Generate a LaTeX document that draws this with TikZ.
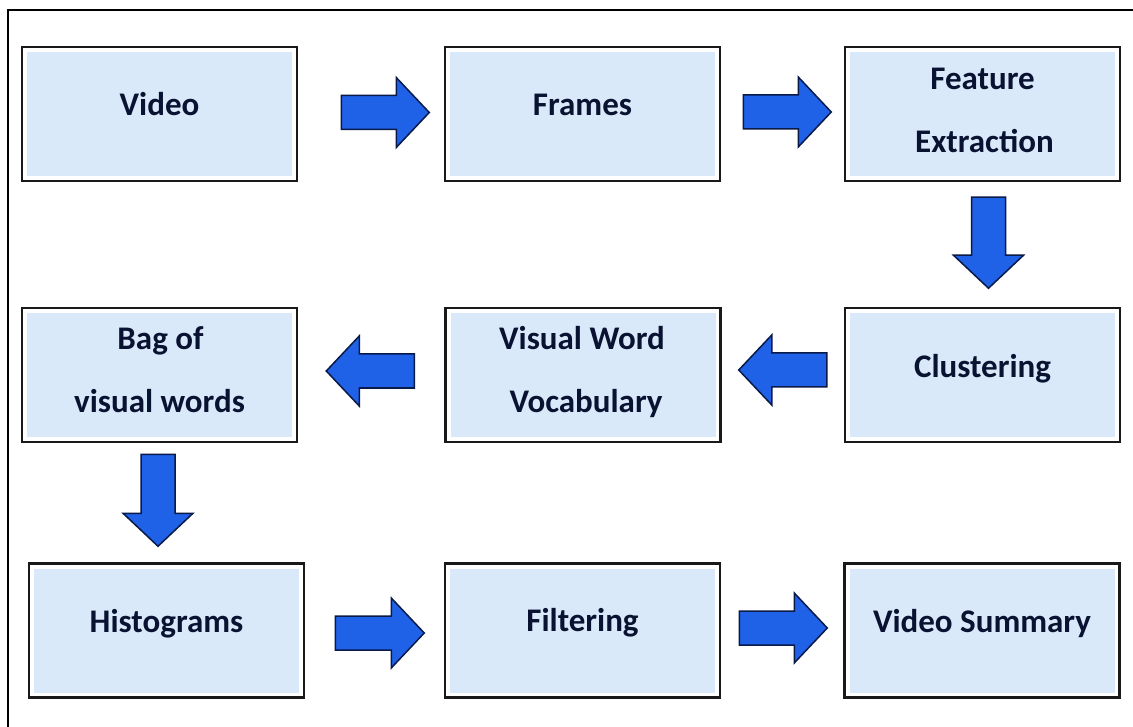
\documentclass[tikz,border=0pt]{standalone}
\usepackage{fontspec}
\setmainfont{Carlito}
\usetikzlibrary{calc}
\definecolor{boxblue}{HTML}{DAE9F9}
\definecolor{arrblue}{HTML}{1F62E8}
\definecolor{arredge}{HTML}{0A1A48}
\definecolor{txt}{HTML}{0A1232}
\tikzset{
  box/.style={draw=black!90, line width=2.5pt, fill=white, minimum width=275pt, minimum height=134pt, inner sep=0pt,
    path picture={\fill[boxblue] ([shift={(5pt,5pt)}]path picture bounding box.south west) rectangle ([shift={(-5pt,-5pt)}]path picture bounding box.north east);}},
  lbl/.style={anchor=base, text=txt, font=\fontsize{33}{40}\selectfont\bfseries, inner sep=0pt},
  barrow/.style={fill=arrblue, draw=arredge, line width=1.5pt, line join=miter},
  pics/barr/.style={code={\draw[barrow] (0,-17) -- (#1-33,-17) -- (#1-33,-35) -- (#1,0) -- (#1-33,35) -- (#1-33,17) -- (0,17) -- cycle;}},
  frameline/.style={draw=black, line width=1.5pt}
}
\begin{document}
\begin{tikzpicture}[x=1pt,y=1pt]
\useasboundingbox (0,0) rectangle (1133,-727);
\draw[frameline] (1133,-10) -- (8,-10) -- (8,-727);
% boxes
\node[box] (video)  at (159.5,-114) {};
\node[box] (frames) at (582.5,-114) {};
\node[box] (fe)     at (982.5,-114) {};
\node[box] (bag)    at (159.5,-375) {};
\node[box] (vwv)    at (583,-375) {};
\node[box] (clus)   at (982.5,-375) {};
\node[box] (hist)   at (166.5,-630.5) {};
\node[box] (filt)   at (582.5,-630.5) {};
\node[box] (vs)     at (982,-630.5) {};
% labels
\node[lbl] (tvideo)  at ($(video.center)+(0,-2)$) {Video};
\node[lbl] (tframes) at ($(frames.center)+(0,-2)$) {Frames};
\node[lbl] (tfe1)    at ($(fe.center)+(0,24)$) {Feature};
\node[lbl] (tfe2)    at ($(fe.center)+(2,-39)$) {Extraction};
\node[lbl] (tbag1)   at ($(bag.center)+(1,25)$) {Bag of};
\node[lbl] (tbag2)   at ($(bag.center)+(0,-38)$) {visual words};
\node[lbl] (tvwv1)   at ($(vwv.center)+(-1,25)$) {Visual Word};
\node[lbl] (tvwv2)   at ($(vwv.center)+(3,-38)$) {Vocabulary};
\node[lbl] (tclus)   at ($(clus.center)+(0,-2.5)$) {Clustering};
\node[lbl] (thist)   at ($(hist.center)+(0,-1.5)$) {Histograms};
\node[lbl] (tfilt)   at ($(filt.center)+(0,-1)$) {Filtering};
\node[lbl] (tvs)     at ($(vs.center)+(0,-1.5)$) {Video Summary};
% block arrows
\pic at ($(video.east)+(43,1.5)$) {barr=88};
\pic at ($(frames.east)+(22,2)$) {barr=88};
\pic[rotate=-90] at ($(fe.south)+(6,-15)$) {barr=91};
\pic[rotate=180] at ($(clus.west)+(-17,5)$) {barr=88};
\pic[rotate=180] at ($(vwv.west)+(-30,4)$) {barr=88};
\pic[rotate=-90] at ($(bag.south)+(-1.5,-11)$) {barr=92};
\pic at ($(hist.east)+(30,-2.5)$) {barr=89};
\pic at ($(filt.east)+(18,2.5)$) {barr=88};
\end{tikzpicture}
\end{document}
